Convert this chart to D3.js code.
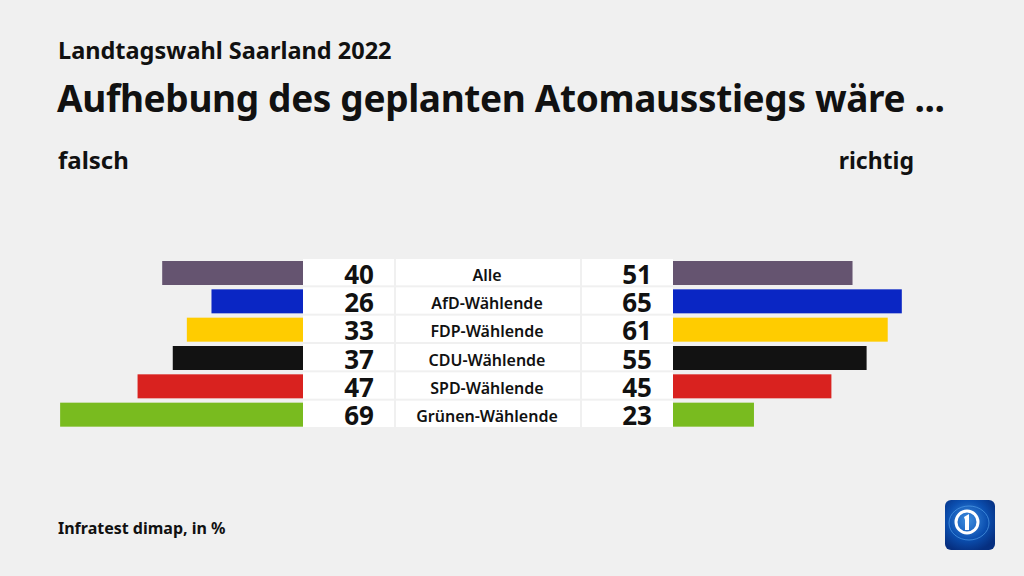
<!DOCTYPE html>
<html><head><meta charset="utf-8">
<script src="https://cdn.jsdelivr.net/npm/d3@7"></script>
<style>body{margin:0;background:#f0f0f0;}svg{display:block;font-family:"Noto Sans",sans-serif;}</style>
</head><body><svg id="c" width="1024" height="576"></svg>
<script>
const categories = ["Alle","AfD-Wählende","FDP-Wählende","CDU-Wählende","SPD-Wählende","Grünen-Wählende"];
const falsch = [40,26,33,37,47,69];
const richtig = [51,65,61,55,45,23];
const colors = ["#655470","#0a26c4","#ffcc00","#121212","#d9221f","#79bb1f"];

const svg = d3.select("#c");
svg.append("rect").attr("width",1024).attr("height",576).attr("fill","#f0f0f0");

svg.append("text").attr("x",58).attr("y",59).attr("font-size",23.5).attr("font-weight",700).attr("fill","#111").text("Landtagswahl Saarland 2022");
svg.append("text").attr("x",57).attr("y",112).attr("font-size",37).attr("letter-spacing",-0.35).attr("font-weight",700).attr("fill","#111").text("Aufhebung des geplanten Atomausstiegs wäre ...");
svg.append("text").attr("x",58).attr("y",169).attr("font-size",24).attr("font-weight",700).attr("fill","#111").text("falsch");
svg.append("text").attr("x",914).attr("y",169).attr("text-anchor","end").attr("font-size",23).attr("font-weight",700).attr("fill","#111").text("richtig");
svg.append("text").attr("x",58).attr("y",534).attr("font-size",16).attr("font-weight",700).attr("fill","#111").text("Infratest dimap, in %");

const y = d3.scaleBand().domain(categories).range([259,429]).paddingInner(0.0).paddingOuter(0);
const xL = d3.scaleLinear().domain([0,100]).range([303,303-352]);
const xR = d3.scaleLinear().domain([0,100]).range([673,673+352]);
const barH = 24;

const rows = svg.append("g").selectAll("g").data(categories).join("g")
  .attr("transform",d=>`translate(0,${y(d)})`);
const rh = y.bandwidth();
// white boxes
rows.append("rect").attr("x",303).attr("y",0).attr("width",91).attr("height",rh-2).attr("fill","#fff");
rows.append("rect").attr("x",396).attr("y",0).attr("width",184).attr("height",rh-2).attr("fill","#fff");
rows.append("rect").attr("x",582).attr("y",0).attr("width",91).attr("height",rh-2).attr("fill","#fff");
// bars
rows.append("rect").attr("x",(d,i)=>xL(falsch[i])).attr("y",2).attr("width",(d,i)=>xL(0)-xL(falsch[i])).attr("height",barH).attr("fill",(d,i)=>colors[i]);
rows.append("rect").attr("x",xR(0)).attr("y",2).attr("width",(d,i)=>xR(richtig[i])-xR(0)).attr("height",barH).attr("fill",(d,i)=>colors[i]);
// numbers
rows.append("text").attr("x",374).attr("y",24.5).attr("text-anchor","end").attr("font-size",26).attr("font-weight",700).attr("fill","#111").text((d,i)=>falsch[i]);
rows.append("text").attr("x",652).attr("y",24.5).attr("text-anchor","end").attr("font-size",26).attr("font-weight",700).attr("fill","#111").text((d,i)=>richtig[i]);
rows.append("text").attr("x",487).attr("y",21.5).attr("text-anchor","middle").attr("font-size",16).attr("font-weight",600).attr("fill","#111").text(d=>d);

// logo
const defs = svg.append("defs");
const rg = defs.append("radialGradient").attr("id","lg").attr("cx","45%").attr("cy","40%").attr("r","65%");
rg.append("stop").attr("offset","0%").attr("stop-color","#3f8fe0");
rg.append("stop").attr("offset","60%").attr("stop-color","#0b4fb0");
rg.append("stop").attr("offset","100%").attr("stop-color","#062f80");
const logo = svg.append("g").attr("transform","translate(945,500)");
logo.append("rect").attr("width",50).attr("height",50).attr("rx",6).attr("fill","url(#lg)");
logo.append("ellipse").attr("cx",24).attr("cy",23).attr("rx",20).attr("ry",17).attr("fill","none").attr("stroke","#5aa8ee").attr("stroke-width",1).attr("opacity",0.6);
logo.append("circle").attr("cx",22).attr("cy",22).attr("r",11).attr("fill","none").attr("stroke","#fff").attr("stroke-width",3);
logo.append("path").attr("d","M19 17 L24 14 L24 30 L20 30 L20 20 Z").attr("fill","#fff");
</script></body></html>
